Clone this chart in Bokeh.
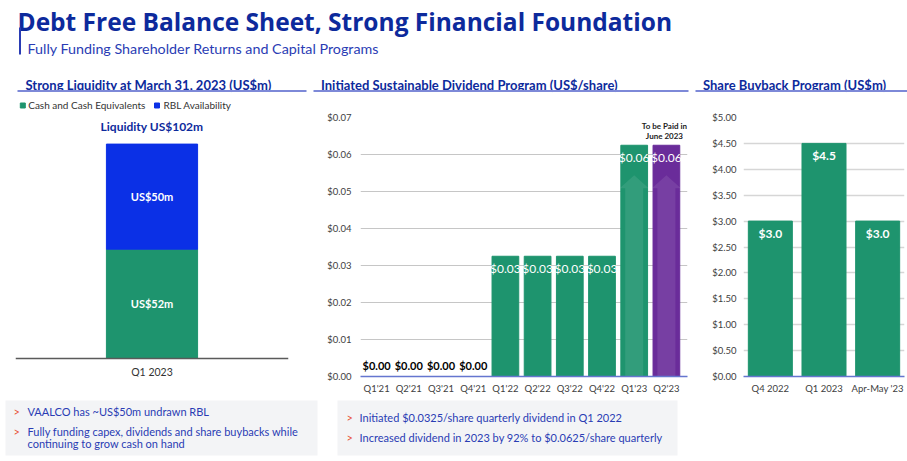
from bokeh.plotting import figure
from bokeh.layouts import column, row
from bokeh.models import Range1d, FixedTicker, NumeralTickFormatter, ColumnDataSource, Label
from bokeh.core.properties import value
from bokeh.embed import file_html
from bokeh.resources import INLINE

# ---------------- data ----------------
title_text = "Debt Free Balance Sheet, Strong Financial Foundation"
subtitle_text = "Fully Funding Shareholder Returns and Capital Programs"
section_titles = ["Strong Liquidity at March 31, 2023 (US$m)",
                  "Initiated Sustainable Dividend Program (US$/share)",
                  "Share Buyback Program (US$m)"]

liq_category = ["Q1 2023"]
liq_cash = [52]
liq_rbl = [50]
liq_series = ["Cash and Cash Equivalents", "RBL Availability"]
liq_total_label = "Liquidity US$102m"

div_quarters = ["Q1'21", "Q2'21", "Q3'21", "Q4'21", "Q1'22", "Q2'22", "Q3'22", "Q4'22", "Q1'23", "Q2'23"]
div_values = [0.0, 0.0, 0.0, 0.0, 0.0325, 0.0325, 0.0325, 0.0325, 0.0625, 0.0625]
div_to_be_paid = [False, False, False, False, False, False, False, False, False, True]
div_ticks = [0.00, 0.01, 0.02, 0.03, 0.04, 0.05, 0.06, 0.07]
div_note = ["To be Paid in", "June 2023"]

bb_periods = ["Q4 2022", "Q1 2023", "Apr-May '23"]
bb_values = [3.0, 4.5, 3.0]
bb_ticks = [0.0, 0.5, 1.0, 1.5, 2.0, 2.5, 3.0, 3.5, 4.0, 4.5, 5.0]

left_notes = [["VAALCO has ~US$50m undrawn RBL"],
              ["Fully funding capex, dividends and share buybacks while",
               "continuing to grow cash on hand"]]
mid_notes = [["Initiated $0.0325/share quarterly dividend in Q1 2022"],
             ["Increased dividend in 2023 by 92% to $0.0625/share quarterly"]]

# ---------------- styles ----------------
FONT = "Lato"
NAVY = "#0d2a9c"
BLUE_TXT = "#2a3cb4"
GREEN = "#1e946e"
BLUE = "#0b30e6"
PURPLE = "#6a2c9a"
RULE = "#7d89d8"
ORANGE = "#e8553a"
BOXBG = "#f3f4f6"
AXISBLUE = "#6576cf"
F = value(FONT)


def canvas(w, h):
    p = figure(width=w, height=h, x_range=Range1d(0, w), y_range=Range1d(h, 0),
               output_backend="svg", toolbar_location=None, tools="",
               x_axis_location=None, y_axis_location=None, min_border=0,
               outline_line_color=None)
    p.xgrid.grid_line_color = None
    p.ygrid.grid_line_color = None
    return p


# ---------------- header (page y 0..111) ----------------
W = 907
HH = 111
hdr = canvas(W, HH)
hdr.text(x=[17], y=[20.7], text=[title_text], text_font=value("Open Sans"),
         text_font_size="24.5px", text_font_style="bold", text_color=NAVY,
         text_baseline="alphabetic")
hdr.segment(x0=[19.5], y0=[27], x1=[19.5], y1=[54], line_color=BLUE_TXT, line_width=2)
hdr.text(x=[27], y=[47.5], text=[subtitle_text], text_font=F, text_font_size="14.3px",
         text_color=BLUE_TXT, text_baseline="alphabetic")
hdr.text(x=[25, 320.5, 702.5], y=[84] * 3, text=section_titles, text_font=F,
         text_font_size="13px", text_font_style="bold", text_color=NAVY,
         text_baseline="alphabetic")
hdr.segment(x0=[17, 313, 695], y0=[90.5] * 3, x1=[306, 688, 907], y1=[90.5] * 3,
            line_color=RULE, line_width=2)
# legend of the liquidity chart
hdr.rect(x=[22.3, 156.5], y=[105, 105], width=5, height=5, color=[GREEN, BLUE])
hdr.text(x=[27.7, 163], y=[104.8, 104.8], text=liq_series, text_font=F,
         text_font_size="10px", text_color="#333333", text_baseline="middle")

# ---------------- charts row (page y 111..398) ----------------
RH = 287
TOP, BOT = 6, 22          # frame 117..376 in page pixels

# left: liquidity
PXU = 2.102               # pixels per US$m
left = figure(width=310, height=RH, x_range=Range1d(-0.5, 0.5),
              y_range=Range1d(-18 / PXU, 241 / PXU),
              output_backend="svg", toolbar_location=None, tools="",
              y_axis_location=None, min_border_left=15, min_border_right=22,
              min_border_top=TOP, min_border_bottom=BOT, outline_line_color=None)
left.xgrid.grid_line_color = None
left.ygrid.grid_line_color = None
lsrc = ColumnDataSource(dict(x=[0], cash=liq_cash, rbl=liq_rbl))
left.vbar_stack(["cash", "rbl"], x="x", width=0.334, color=[GREEN, BLUE], source=lsrc)
left.xaxis.fixed_location = 0
left.xaxis.ticker = FixedTicker(ticks=[0])
left.xaxis.major_label_overrides = {0: liq_category[0]}
left.xaxis.axis_line_color = "#5a5a5a"
left.xaxis.axis_line_width = 1.5
left.xaxis.major_tick_line_color = None
left.xaxis.minor_tick_line_color = None
left.xaxis.major_tick_out = 0
left.xaxis.major_tick_in = 0
left.xaxis.major_label_standoff = 7
left.xaxis.major_label_text_font = FONT
left.xaxis.major_label_text_font_size = "10.5px"
left.xaxis.major_label_text_color = "#333333"

seg_mid = [liq_cash[0] / 2, liq_cash[0] + liq_rbl[0] / 2]
left.text(x=[0, 0], y=seg_mid, text=["US$%dm" % liq_cash[0], "US$%dm" % liq_rbl[0]],
          text_font=F, text_font_size="11px", text_font_style="bold",
          text_color="white", text_align="center", text_baseline="middle")
left.text(x=[0], y=[liq_cash[0] + liq_rbl[0]], y_offset=[-17.6], text=[liq_total_label],
          text_font=F, text_font_size="12px", text_font_style="bold", text_color=NAVY,
          text_align="center", text_baseline="middle")

# middle: dividends
SLOT = 32.2               # pixels per quarter
mid = figure(width=380, height=RH,
             x_range=Range1d(-0.5, len(div_quarters) - 0.5 + 5 / SLOT),
             y_range=Range1d(0, 0.07), output_backend="svg", toolbar_location=None,
             tools="", min_border_left=50, min_border_right=3, min_border_top=TOP,
             min_border_bottom=BOT, outline_line_color=None)
PXD = 259 / 0.07          # pixels per US$/share
xs = list(range(len(div_quarters)))
colors = [PURPLE if t else GREEN for t in div_to_be_paid]
mid.vbar(x=xs, top=div_values, width=0.83, color=colors)

# faint upward arrows inside the latest bars
arrow_xs, arrow_ys = [], []
for i, v in enumerate(div_values):
    if i >= 8:
        tip = v - 30 / PXD
        base = v - 43 / PXD
        arrow_xs.append([i, i + 0.45, i + 0.28, i + 0.28, i - 0.28, i - 0.28, i - 0.45])
        arrow_ys.append([tip, base, base, 0, 0, base, base])
mid.patches(arrow_xs, arrow_ys, fill_color="white", fill_alpha=0.09, line_color=None)

zx = [i for i, v in enumerate(div_values) if v == 0]
nx = [i for i, v in enumerate(div_values) if v > 0]
mid.text(x=zx, y=[0] * len(zx), y_offset=-5, text=["$%.2f" % div_values[i] for i in zx],
         text_font=F, text_font_size="11px", text_font_style="bold", text_color="black",
         text_align="center", text_baseline="bottom")
mid.text(x=nx, y=[div_values[i] for i in nx], y_offset=12,
         text=["$%.2f" % div_values[i] for i in nx], text_font=F, text_font_size="12px",
         text_color="white", text_align="center", text_baseline="middle")
for i, t in enumerate(div_to_be_paid):
    if t:
        for k, line in enumerate(div_note):
            mid.add_layout(Label(x=i, y=div_values[i] + (19 - 10 * k) / PXD, text=line,
                                 x_offset=-2, text_font=FONT, text_font_size="8px",
                                 text_font_style="bold", text_color="#222222",
                                 text_align="center", text_baseline="middle"))

mid.xaxis.ticker = FixedTicker(ticks=xs)
mid.xaxis.major_label_overrides = {i: q for i, q in enumerate(div_quarters)}
mid.yaxis.ticker = FixedTicker(ticks=div_ticks)
mid.yaxis.formatter = NumeralTickFormatter(format="$0.00")
mid.xgrid.grid_line_color = None
mid.ygrid.grid_line_color = "#c6c6c6"
mid.ygrid.grid_line_width = 1

# right: buybacks
rt = figure(width=217, height=RH, x_range=Range1d(-0.5, len(bb_periods) - 0.5),
            y_range=Range1d(0, 5), output_backend="svg", toolbar_location=None, tools="",
            min_border_left=53, min_border_right=3, min_border_top=TOP,
            min_border_bottom=BOT, outline_line_color=None)
bx = list(range(len(bb_periods)))
rt.vbar(x=bx, top=bb_values, width=0.82, color=GREEN)
rt.text(x=bx, y=bb_values, y_offset=12.5, text=["$%.1f" % v for v in bb_values],
        text_font=F, text_font_size="12px", text_font_style="bold", text_color="white",
        text_align="center", text_baseline="middle")
rt.xaxis.ticker = FixedTicker(ticks=bx)
rt.xaxis.major_label_overrides = {i: q for i, q in enumerate(bb_periods)}
rt.yaxis.ticker = FixedTicker(ticks=bb_ticks)
rt.yaxis.formatter = NumeralTickFormatter(format="$0.00")
rt.xgrid.grid_line_color = None
rt.ygrid.grid_line_color = "#d6d6d6"
rt.ygrid.grid_line_width = 1.5

for p, standoff in ((mid, 9), (rt, 7)):
    p.xaxis.axis_line_color = AXISBLUE
    p.xaxis.axis_line_width = 1.5
    p.yaxis.axis_line_color = None
    for ax in (p.xaxis, p.yaxis):
        ax.major_tick_line_color = None
        ax.minor_tick_line_color = None
        ax.major_tick_out = 0
        ax.major_tick_in = 0
        ax.major_label_text_font = FONT
        ax.major_label_text_font_size = "9.5px"
        ax.major_label_text_color = "#404040"
    p.xaxis.major_label_standoff = 6
    p.yaxis.major_label_standoff = standoff

# ---------------- bottom notes (page y 398..461) ----------------
bot = canvas(W, 63)
bot.quad(left=[5, 337], right=[317, 677], top=[2, 2], bottom=[57, 57],
         fill_color=BOXBG, line_color=None)


def notes(p, items, x_arrow, x_text, y_lines):
    k = 0
    for item in items:
        p.text(x=[x_arrow], y=[y_lines[k]], text=[">"], text_font=F, text_font_size="11px",
               text_color=ORANGE, text_baseline="middle")
        for line in item:
            p.text(x=[x_text], y=[y_lines[k]], text=[line], text_font=F,
                   text_font_size="11px", text_color=BLUE_TXT, text_baseline="middle")
            k += 1


notes(bot, left_notes, 13, 27, [12.7, 32.7, 45.3])
notes(bot, mid_notes, 346, 359, [19.3, 38.7])

layout = column(hdr, row(left, mid, rt), bot)
open("out.html", "w").write(file_html(layout, INLINE))
